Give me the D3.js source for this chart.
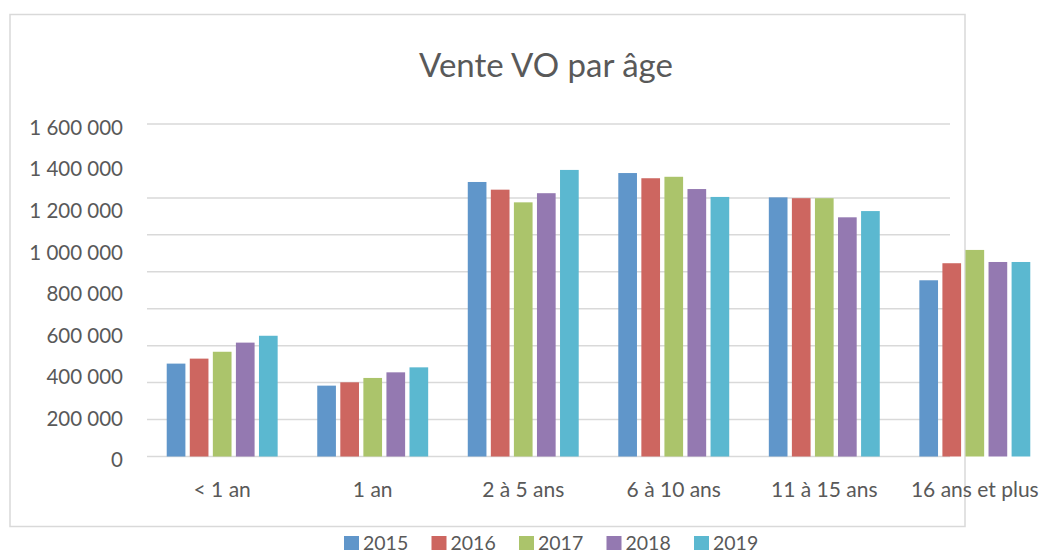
<!DOCTYPE html>
<html lang="fr">
<head>
<meta charset="UTF-8">
<title>Vente VO par âge</title>
<script src="https://d3js.org/d3.v7.min.js"></script>
<style>
  body { margin: 0; background: #fff; }
  svg { display: block; font-family: Lato, 'Open Sans', sans-serif; }
  .lbl { fill: #595959; }
</style>
</head>
<body>
<svg id="chart" width="1043" height="554"></svg>
<script>
// categories and series
const categories = ["< 1 an", "1 an", "2 à 5 ans", "6 à 10 ans", "11 à 15 ans", "16 ans et plus"];
const years = ["2015", "2016", "2017", "2018", "2019"];
const colors = ["#6096CA", "#CD6660", "#ABC46B", "#9479B1", "#5BB8D0"];

const v2015 = [447000, 341000, 1321000, 1364000, 1247000, 848000];
const v2016 = [471000, 357000, 1284000, 1339000, 1243000, 930000];
const v2017 = [504000, 378000, 1223000, 1346000, 1243000, 994000];
const v2018 = [548000, 405000, 1267000, 1287000, 1151000, 936000];
const v2019 = [581000, 429000, 1379000, 1249000, 1181000, 936000];
const series = [v2015, v2016, v2017, v2018, v2019];

const yTicks = [0, 200000, 400000, 600000, 800000, 1000000, 1200000, 1400000, 1600000];
// horizontal grid lines as drawn (one is missing in the original)
const gridSteps = [1, 2, 3, 4, 5, 6, 7, 9];

const svg = d3.select("#chart");

// outer chart border
svg.append("rect")
  .attr("x", 10).attr("y", 14.5)
  .attr("width", 955).attr("height", 512)
  .attr("fill", "none")
  .attr("stroke", "#d9d9d9")
  .attr("stroke-width", 1.5);

const x0 = d3.scaleBand().domain(categories).range([147, 1050])
  .paddingInner(0.263).paddingOuter(0.131);
const x1 = d3.scaleBand().domain(years).range([0, x0.bandwidth()]).paddingInner(0.19);
const y = d3.scaleLinear().domain([0, 1600000]).range([456.5, 124]);
const yGrid = d3.scaleLinear().domain([0, 9]).range([456.5, 124]);

const fmt = v => d3.format(",")(v).replace(/,/g, " ");

// grid
svg.append("g").selectAll("line").data(gridSteps).join("line")
  .attr("x1", 147).attr("x2", 950)
  .attr("y1", d => yGrid(d)).attr("y2", d => yGrid(d))
  .attr("stroke", "#d9d9d9").attr("stroke-width", 1.5);

// baseline
svg.append("line")
  .attr("x1", 147).attr("x2", 950)
  .attr("y1", y(0)).attr("y2", y(0))
  .attr("stroke", "#d9d9d9").attr("stroke-width", 1.5);

// bars
const groups = svg.append("g").selectAll("g").data(categories).join("g")
  .attr("transform", d => `translate(${x0(d)},0)`);

groups.selectAll("rect")
  .data((c, i) => years.map((yr, j) => ({ yr, j, v: series[j][i] })))
  .join("rect")
  .attr("x", d => x1(d.yr))
  .attr("width", x1.bandwidth())
  .attr("y", d => y(d.v))
  .attr("height", d => y(0) - y(d.v))
  .attr("fill", d => colors[d.j]);

// y labels
svg.append("g").selectAll("text").data(yTicks).join("text")
  .attr("class", "lbl")
  .attr("x", 123)
  .attr("y", d => y(d) + 3.5)
  .attr("dy", "0.36em")
  .attr("text-anchor", "end")
  .attr("font-size", 20.5)
  .text(fmt);

// x labels
svg.append("g").selectAll("text").data(categories).join("text")
  .attr("class", "lbl")
  .attr("x", d => x0(d) + x0.bandwidth() / 2)
  .attr("y", 496.5)
  .attr("text-anchor", "middle")
  .attr("font-size", 21)
  .text(d => d);

// title
svg.append("text")
  .attr("class", "lbl")
  .attr("x", 546).attr("y", 76.5)
  .attr("text-anchor", "middle")
  .attr("font-size", 33)
  .text("Vente VO par âge");

// legend
const leg = svg.append("g").selectAll("g").data(years).join("g")
  .attr("transform", (d, i) => `translate(${344 + i * 87.5},536)`);
leg.append("rect").attr("width", 15).attr("height", 14)
  .attr("fill", (d, i) => colors[i]);
leg.append("text").attr("class", "lbl")
  .attr("x", 19).attr("y", 14)
  .attr("font-size", 19.5)
  .text(d => d);
</script>
</body>
</html>
